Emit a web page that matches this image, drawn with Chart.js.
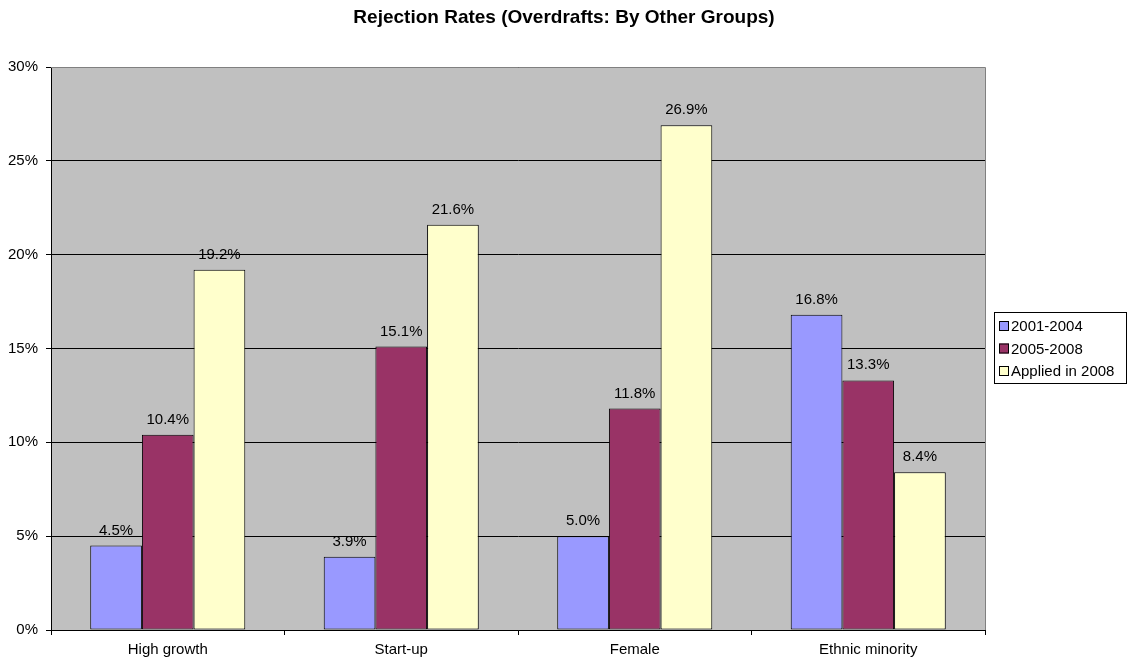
<!DOCTYPE html>
<html>
<head>
<meta charset="utf-8">
<script src="https://cdn.jsdelivr.net/npm/chart.js@4/dist/chart.umd.min.js"></script>
<style>
  html, body { margin: 0; padding: 0; background: #fff; }
  #wrap { width: 1128px; height: 664px; }
</style>
</head>
<body>
<div id="wrap"><canvas id="myChart" width="1128" height="664"></canvas></div>
<script>
// data
const categories = ["High growth", "Start-up", "Female", "Ethnic minority"];
const rates2001to2004 = [4.5, 3.9, 5.0, 16.8];
const rates2005to2008 = [10.4, 15.1, 11.8, 13.3];
const ratesApplied2008 = [19.2, 21.6, 26.9, 8.4];
const yTicks = [0, 5, 10, 15, 20, 25, 30];
const chartTitle = "Rejection Rates (Overdrafts: By Other Groups)";

const FONT = "'Liberation Sans', Arial, sans-serif";

// grey plot background + frame
const plotBg = {
    id: "plotBg",
    beforeDraw(chart) {
        const { ctx, chartArea: a } = chart;
        ctx.save();
        ctx.fillStyle = "#C0C0C0";
        ctx.fillRect(a.left, a.top, a.right - a.left, a.bottom - a.top);
        ctx.restore();
    },
    afterDraw(chart) {
        const { ctx, chartArea: a } = chart;
        ctx.save();
        ctx.strokeStyle = "#808080";
        ctx.lineWidth = 1;
        ctx.beginPath();
        ctx.moveTo(a.left, a.top + 0.5);
        ctx.lineTo(a.right + 0.5, a.top + 0.5);
        ctx.lineTo(a.right + 0.5, a.bottom);
        ctx.stroke();
        // title, centred on the whole page like the original
        ctx.font = "bold 19px " + FONT;
        ctx.fillStyle = "#000";
        ctx.textAlign = "center";
        ctx.textBaseline = "middle";
        ctx.fillText(chartTitle, chart.width / 2, 18);
        ctx.restore();
    }
};

// value labels above the bars
const barLabels = {
    id: "barLabels",
    afterDatasetsDraw(chart) {
        const ctx = chart.ctx;
        ctx.save();
        ctx.font = "15px " + FONT;
        ctx.fillStyle = "#000";
        ctx.textAlign = "center";
        ctx.textBaseline = "alphabetic";
        chart.data.datasets.forEach((ds, i) => {
            chart.getDatasetMeta(i).data.forEach((bar, j) => {
                ctx.fillText(ds.data[j].toFixed(1) + "%", bar.x, bar.y - 11);
            });
        });
        ctx.restore();
    }
};

// boxed legend on the right, like the original
const sideLegend = {
    id: "sideLegend",
    afterDraw(chart) {
        const ctx = chart.ctx;
        const x = 994, y = 312, w = 133, h = 72;
        ctx.save();
        ctx.fillStyle = "#fff";
        ctx.fillRect(x, y, w, h);
        ctx.strokeStyle = "#000";
        ctx.lineWidth = 1;
        ctx.strokeRect(x + 0.5, y + 0.5, w - 1, h - 1);
        ctx.font = "15px " + FONT;
        ctx.textBaseline = "middle";
        chart.data.datasets.forEach((ds, i) => {
            const cy = y + 14 + i * 22.5;
            ctx.fillStyle = ds.backgroundColor;
            ctx.fillRect(x + 5, cy - 5, 10, 10);
            ctx.strokeRect(x + 5.5, cy - 4.5, 9, 9);
            ctx.fillStyle = "#000";
            ctx.fillText(ds.label, x + 17, cy + 1);
        });
        ctx.restore();
    }
};

new Chart(document.getElementById("myChart").getContext("2d"), {
    type: "bar",
    data: {
        labels: categories,
        datasets: [
            { label: "2001-2004", data: rates2001to2004, backgroundColor: "#9999FF" },
            { label: "2005-2008", data: rates2005to2008, backgroundColor: "#993366" },
            { label: "Applied in 2008", data: ratesApplied2008, backgroundColor: "#FFFFCC" }
        ].map(d => Object.assign(d, {
            borderColor: "#000",
            borderWidth: 1,
            borderSkipped: false,
            categoryPercentage: 0.664,
            barPercentage: 1
        }))
    },
    plugins: [plotBg, barLabels, sideLegend],
    options: {
        responsive: false,
        animation: false,
        layout: { padding: { left: 0, right: 143, top: 67, bottom: 0 } },
        plugins: {
            legend: { display: false },
            tooltip: { enabled: false },
            title: { display: false }
        },
        scales: {
            x: {
                afterFit(s) { s.height = 34; },
                grid: {
                    drawOnChartArea: false,
                    drawTicks: true,
                    tickLength: 5,
                    color: "#000",
                    offset: true
                },
                border: { color: "#000", width: 1 },
                ticks: { color: "#000", font: { family: FONT, size: 15 }, padding: 6 }
            },
            y: {
                min: 0,
                max: 30,
                afterFit(s) { s.width = 51; },
                afterBuildTicks(s) { s.ticks = yTicks.map(v => ({ value: v })); },
                grid: {
                    color: "#000",
                    drawTicks: true,
                    tickLength: 5,
                    lineWidth: 1
                },
                border: { color: "#000", width: 1 },
                ticks: {
                    color: "#000",
                    font: { family: FONT, size: 15 },
                    padding: 8,
                    callback: v => v + "%"
                }
            }
        }
    }
});
</script>
</body>
</html>
